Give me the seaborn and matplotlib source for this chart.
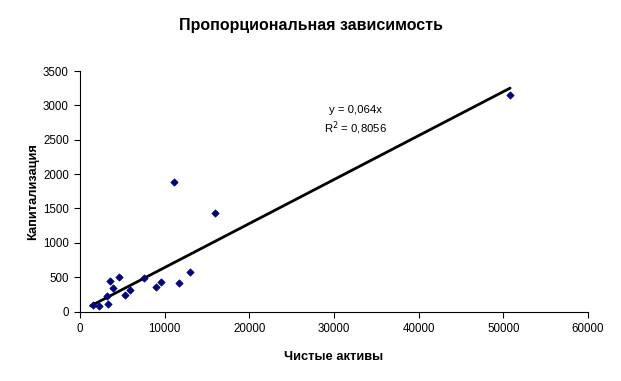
import matplotlib
matplotlib.use("Agg")
import matplotlib.pyplot as plt
import seaborn as sns
import pandas as pd
import numpy as np

# data
net_assets = [1570, 2200, 3180, 3330, 3570, 3920, 4550, 5330, 5920, 7530,
              8980, 9560, 11090, 11680, 12970, 15990, 50800]
capitalization = [93, 73, 229, 108, 443, 341, 501, 239, 312, 487,
                  356, 429, 1887, 414, 574, 1435, 3145]
slope = 0.064
r2_text = "0,8056"

df = pd.DataFrame({"Чистые активы": net_assets, "Капитализация": capitalization})
trend_x = np.array([min(net_assets) - 300, max(net_assets)])
trend = pd.DataFrame({"x": trend_x, "y": slope * trend_x})

sns.set_theme(style="white")
plt.rcParams["font.family"] = ["Liberation Sans", "DejaVu Sans"]
plt.rcParams["text.color"] = "black"
plt.rcParams["axes.labelcolor"] = "black"
plt.rcParams["xtick.color"] = "black"
plt.rcParams["ytick.color"] = "black"

fig = plt.figure(figsize=(6.21, 3.81), dpi=100)
ax = fig.add_axes([80 / 621, 1 - 311.5 / 381, 508 / 621, 240.5 / 381])

sns.lineplot(data=trend, x="x", y="y", color="black", linewidth=2, ax=ax)
sns.scatterplot(data=df, x="Чистые активы", y="Капитализация", marker="D",
                color="#000080", edgecolor="#000080", s=14, linewidth=0.5, ax=ax, zorder=3)

ax.set_xlim(0, 60000)
ax.set_ylim(0, 3500)
ax.set_xticks(range(0, 60001, 10000))
ax.set_yticks(range(0, 3501, 500))
ax.tick_params(axis="both", direction="out", length=4, width=0.8,
               labelsize=8.3, pad=4, bottom=True, left=True)
for side in ["top", "right"]:
    ax.spines[side].set_visible(False)
for side in ["left", "bottom"]:
    ax.spines[side].set_color("black")
    ax.spines[side].set_linewidth(0.8)

ax.set_xlabel("Чистые активы", fontsize=9.3, fontweight="bold", labelpad=12)
ax.set_ylabel("Капитализация", fontsize=9.3, fontweight="bold", labelpad=3)
fig.suptitle("Пропорциональная зависимость", fontsize=11.5, fontweight="bold", y=1 - 18 / 381, va="top")

ax.text(32500, 2770, "y = 0,064x\nR$^2$ = " + r2_text, fontsize=8.2, ha="center", va="center",
        linespacing=1.3)

fig.savefig("out.png", dpi=100, facecolor="white")
